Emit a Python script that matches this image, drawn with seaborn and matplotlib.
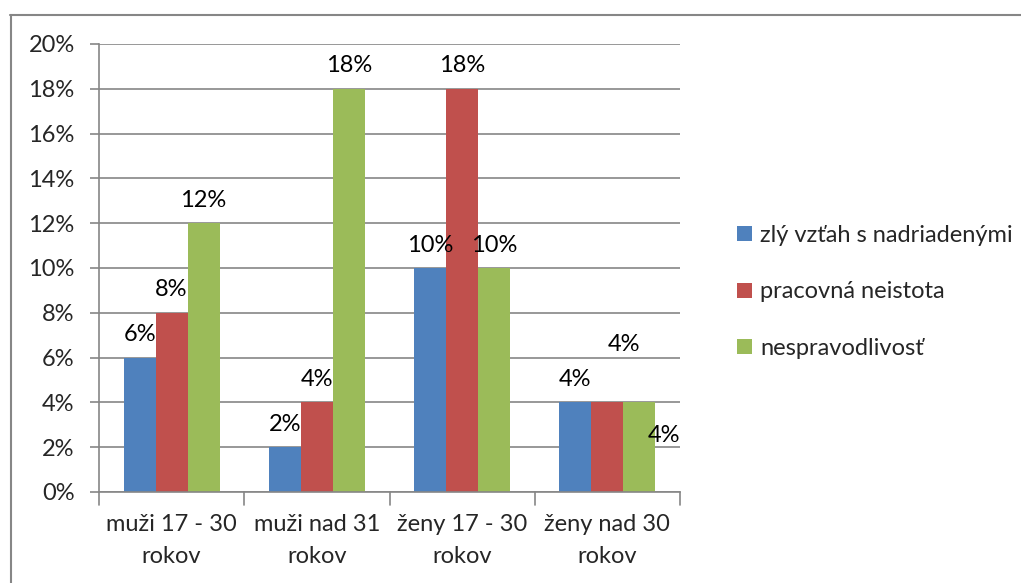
import matplotlib
matplotlib.use("Agg")
import matplotlib.pyplot as plt
from matplotlib.lines import Line2D
from matplotlib.patches import Patch
import seaborn as sns
import pandas as pd

# Data
categories = ["muži 17 - 30\nrokov", "muži nad 31\nrokov", "ženy 17 - 30\nrokov", "ženy nad 30\nrokov"]
series = ["zlý vzťah s nadriadenými", "pracovná neistota", "nespravodlivosť"]
zly_vztah = [6, 2, 10, 4]
pracovna_neistota = [8, 4, 18, 4]
nespravodlivost = [12, 18, 10, 4]
y_ticks = [0, 2, 4, 6, 8, 10, 12, 14, 16, 18, 20]

colors = ["#4F81BD", "#C0504D", "#9BBB59"]
FS = 17

# Manual nudges (pixels) for a few data labels: (series index, category index) -> (dx, dy)
label_nudge = {(1, 3): (17, 35), (2, 3): (25, -56)}

df = pd.DataFrame({
    "kategoria": categories * 3,
    "seria": [s for s in series for _ in categories],
    "hodnota": zly_vztah + pracovna_neistota + nespravodlivost,
})

sns.set_theme(style="white")
plt.rcParams["font.family"] = ["Lato", "DejaVu Sans"]

fig = plt.figure(figsize=(10.21, 5.83), dpi=100)
ax = fig.add_axes([99 / 1021, 91 / 583, 581 / 1021, 448 / 583])

sns.barplot(data=df, x="kategoria", y="hodnota", hue="seria", palette=colors,
            width=0.66, saturation=1, ax=ax, legend=False, edgecolor="none")

ax.set_ylim(0, 20)
ax.set_xlim(-0.5, len(categories) - 0.5)
ax.set_yticks(y_ticks)
ax.set_yticklabels([f"{t}%" for t in y_ticks], fontsize=FS)
ax.set_xlabel("")
ax.set_ylabel("")
ax.tick_params(axis="x", length=0, labelsize=FS, pad=16)
ax.tick_params(axis="y", length=6.5, color="#868686", width=1.2, pad=11, direction="out", left=True)
for t in ax.get_xticklabels():
    t.set_linespacing(1.62)

ax.grid(axis="y", color="#868686", linewidth=1.2)
ax.set_axisbelow(True)
for side in ["top", "right"]:
    ax.spines[side].set_visible(False)
for side in ["left", "bottom"]:
    ax.spines[side].set_color("#868686")
    ax.spines[side].set_linewidth(1.2)

# Category boundary ticks below the x axis
for b in [i - 0.5 for i in range(len(categories) + 1)]:
    ax.add_line(Line2D([b, b], [0, -0.03], transform=ax.get_xaxis_transform(),
                       color="#868686", linewidth=1.2, clip_on=False))

# Data labels
for si, cont in enumerate(ax.containers):
    for ci, bar in enumerate(cont):
        val = bar.get_height()
        dx, dy = label_nudge.get((si, ci), (0, 0))
        ax.annotate(f"{val:.0f}%", xy=(bar.get_x() + bar.get_width() / 2, val),
                    xytext=(dx * 0.72, 16.5 + dy * 0.72), textcoords="offset points",
                    ha="center", va="center", fontsize=FS, color="black")

# Legend
handles = [Patch(facecolor=c, edgecolor="none") for c in colors]
fig.legend(handles, series, loc="center left", bbox_to_anchor=(728 / 1021, 1 - 292 / 583),
           frameon=False, fontsize=FS, handlelength=0.62, handleheight=0.62,
           handletextpad=0.35, labelspacing=1.5, borderaxespad=0)

# Chart-area border (top and left edges)
fig.add_artist(Line2D([10 / 1021, 1], [1 - 14.5 / 583, 1 - 14.5 / 583],
                      transform=fig.transFigure, color="#868686", linewidth=1.5))
fig.add_artist(Line2D([10.5 / 1021, 10.5 / 1021], [0, 1 - 14.5 / 583],
                      transform=fig.transFigure, color="#868686", linewidth=1.5))

fig.savefig("out.png", dpi=100, facecolor="white")
